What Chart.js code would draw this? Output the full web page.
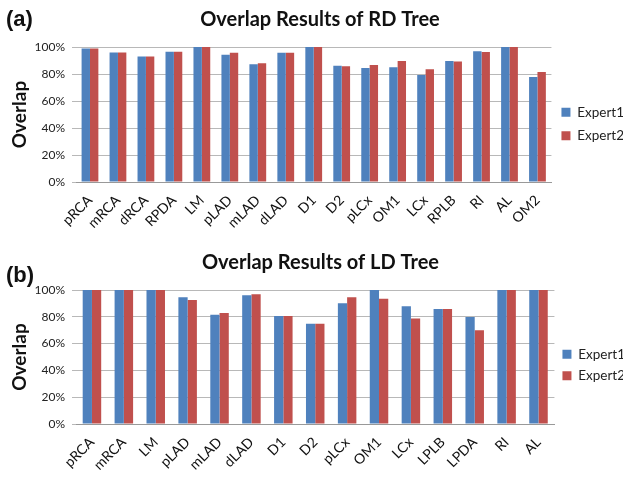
<!DOCTYPE html>
<html>
<head>
<meta charset="utf-8">
<script src="https://cdn.jsdelivr.net/npm/chart.js@4.4.1/dist/chart.umd.min.js"></script>
<style>
  body { margin: 0; background: #fff; }
  .panel { position: relative; width: 623px; overflow: hidden; }
  .tag { position: absolute; left: 6px; font: bold 22px "Liberation Sans", Arial, sans-serif; color: #111; line-height: 26px; }
</style>
</head>
<body>
<div class="panel" style="height:240px">
  <div class="tag" style="top:6px">(a)</div>
  <canvas id="chartA" width="623" height="240"></canvas>
</div>
<div class="panel" style="height:239px">
  <div class="tag" style="top:22px">(b)</div>
  <canvas id="chartB" width="623" height="239"></canvas>
</div>
<script>
// RD tree (a)
const rdLabels = ["pRCA", "mRCA", "dRCA", "RPDA", "LM", "pLAD", "mLAD", "dLAD", "D1", "D2", "pLCx", "OM1", "LCx", "RPLB", "RI", "AL", "OM2"];
const rdExpert1 = [98.8, 96.0, 93.0, 96.5, 100, 94.3, 87.2, 95.8, 100, 86.2, 84.4, 85.0, 79.3, 89.6, 96.8, 100, 77.8];
const rdExpert2 = [98.8, 96.0, 93.0, 96.5, 100, 95.8, 87.9, 95.8, 100, 85.7, 86.7, 89.6, 83.5, 89.2, 96.3, 100, 81.5];

// LD tree (b)
const ldLabels = ["pRCA", "mRCA", "LM", "pLAD", "mLAD", "dLAD", "D1", "D2", "pLCx", "OM1", "LCx", "LPLB", "LPDA", "RI", "AL"];
const ldExpert1 = [100, 100, 100, 94.5, 81.6, 96.0, 80.6, 74.9, 90.1, 100, 87.8, 85.9, 79.9, 100, 100];
const ldExpert2 = [100, 100, 100, 92.6, 82.9, 96.8, 80.6, 74.9, 94.5, 93.5, 78.7, 85.9, 70.0, 100, 100];

const yTicks = [0, 20, 40, 60, 80, 100];

const blue = "#4f81bd";
const red = "#c0504d";
const font = "Lato, sans-serif";

function makeChart(id, title, labels, e1, e2, opts) {
  return new Chart(document.getElementById(id), {
    type: "bar",
    data: {
      labels: labels,
      datasets: [
        { label: "Expert1", data: e1, backgroundColor: blue, categoryPercentage: opts.cat, barPercentage: 1 },
        { label: "Expert2", data: e2, backgroundColor: red, categoryPercentage: opts.cat, barPercentage: 1 }
      ]
    },
    options: {
      responsive: false,
      animation: false,
      layout: { padding: { left: 6, right: opts.right, top: opts.top, bottom: 0 } },
      plugins: {
        title: {
          display: true,
          text: title,
          color: "#111",
          font: { family: font, size: 20, weight: "bold" },
          padding: { top: 0, bottom: opts.titleGap }
        },
        legend: {
          position: "right",
          labels: { boxWidth: 9, boxHeight: 9, color: "#222", font: { family: font, size: 13.5 }, padding: opts.legPad }
        },
        tooltip: { enabled: false }
      },
      scales: {
        x: {
          grid: { display: false },
          border: { color: "#999" },
          ticks: { color: "#111", font: { family: font, size: 14 }, minRotation: 45, maxRotation: 45, autoSkip: false, padding: 2 },
          afterFit: (s) => { s.height = opts.xh; }
        },
        y: {
          min: 0,
          max: 100,
          afterBuildTicks: (s) => { s.ticks = yTicks.map(v => ({ value: v })); },
          grid: { color: "#b8b8b8", tickLength: 4 },
          border: { display: false },
          ticks: { color: "#222", font: { family: font, size: 12 }, callback: (v) => v + "%", padding: 7 },
          title: { display: true, text: "Overlap", color: "#111", font: { family: font, size: 19, weight: "bold" }, padding: 2 },
          afterFit: (s) => { s.width = 70; }
        }
      }
    }
  });
}

makeChart("chartA", "Overlap Results of RD Tree", rdLabels, rdExpert1, rdExpert2, { cat: 0.6, right: -11, legPad: 10, top: 8, titleGap: 15, xh: 58 });
makeChart("chartB", "Overlap Results of LD Tree", ldLabels, ldExpert1, ldExpert2, { cat: 0.58, right: -12, legPad: 8, top: 11, titleGap: 15, xh: 55 });
</script>
</body>
</html>
